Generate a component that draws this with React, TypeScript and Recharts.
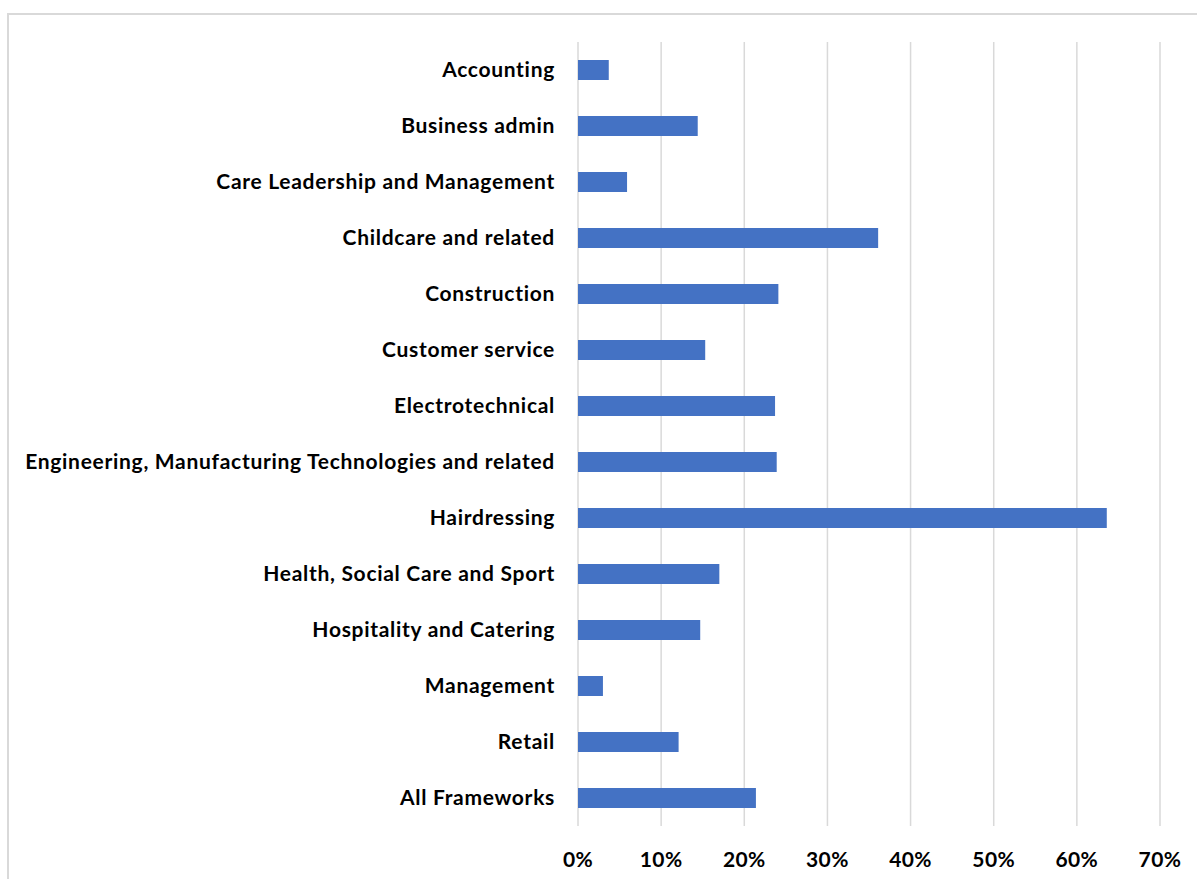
import { BarChart, Bar, XAxis, YAxis, CartesianGrid } from "recharts";

const categories = [
  "Accounting",
  "Business admin",
  "Care Leadership and Management",
  "Childcare and related",
  "Construction",
  "Customer service",
  "Electrotechnical",
  "Engineering, Manufacturing Technologies and related",
  "Hairdressing",
  "Health, Social Care and Sport",
  "Hospitality and Catering",
  "Management",
  "Retail",
  "All Frameworks",
];

const shares = [3.7, 14.4, 5.9, 36.1, 24.1, 15.3, 23.7, 23.9, 63.6, 17.0, 14.7, 3.0, 12.1, 21.4];

const xTicks = [0, 10, 20, 30, 40, 50, 60, 70];

const data = categories.map((name, i) => ({ name, value: shares[i] }));

const font = "Lato, 'Open Sans', sans-serif";
const labelStyle = {
  fontSize: 21,
  fontWeight: 700,
  fill: "#000",
  fontFamily: font,
  letterSpacing: 0.7,
  fontVariantLigatures: "none",
};

export default function App() {
  return (
    <div style={{ position: "relative", width: 1197, height: 879, overflow: "hidden", background: "#fff" }}>
      <style>{`body{margin:0;overflow:hidden}`}</style>
      <div
        style={{
          position: "absolute",
          left: 7,
          top: 13,
          width: 1300,
          height: 1000,
          border: "2px solid #d9d9d9",
        }}
      />
      <div style={{ position: "absolute", left: 0, top: 0 }}>
        <BarChart
          width={1197}
          height={879}
          data={data}
          layout="vertical"
          margin={{ top: 42, right: 37, left: 0, bottom: 13 }}
        >
          <CartesianGrid horizontal={false} stroke="#d9d9d9" strokeWidth={1.5} />
          <XAxis
            type="number"
            domain={[0, 70]}
            ticks={xTicks}
            tickFormatter={(v) => `${v}%`}
            axisLine={false}
            tickLine={false}
            tickMargin={20}
            height={40}
            tick={{ ...labelStyle, letterSpacing: 0.4 }}
          />
          <YAxis
            type="category"
            dataKey="name"
            width={578}
            axisLine={false}
            tickLine={false}
            tickMargin={17}
            interval={0}
            tick={labelStyle}
          />
          <Bar dataKey="value" fill="#4472c4" barSize={20} isAnimationActive={false} />
        </BarChart>
      </div>
    </div>
  );
}
